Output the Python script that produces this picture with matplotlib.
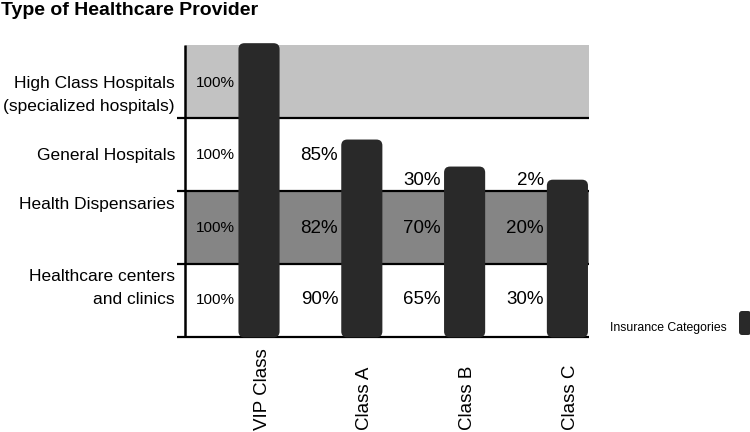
import matplotlib
matplotlib.use("Agg")
import matplotlib.pyplot as plt
from matplotlib.patches import FancyBboxPatch, Rectangle
from matplotlib.transforms import blended_transform_factory

plt.rcParams['font.family'] = ['Liberation Sans', 'DejaVu Sans']

# ---- data ----
title = "Type of Healthcare Provider"
categories = ["VIP Class", "Class A", "Class B", "Class C"]
# bar heights in "provider band" units (each band = 1)
bar_heights = [4.03, 2.71, 2.34, 2.16]
providers = ["Healthcare centers\nand clinics", "Health Dispensaries",
             "General Hospitals", "High Class Hospitals\n(specialized hospitals)"]
provider_label_y = [0.67, 1.82, 2.48, 3.315]
band_colors = ["white", "#858585", "white", "#c2c2c2"]
# percentages per provider (bottom to top), per insurance category
pct_clinics = ["100%", "90%", "65%", "30%"]
pct_dispensaries = ["100%", "82%", "70%", "20%"]
pct_general = ["100%", "85%", "30%", "2%"]
pct_highclass = ["100%", None, None, None]
pct_rows = [pct_clinics, pct_dispensaries, pct_general, pct_highclass]
pct_y = [[0.507, 0.507, 0.507, 0.507],
         [1.49, 1.49, 1.49, 1.49],
         [2.49, 2.49, 2.137, 2.137],
         [3.48, None, None, None]]
legend_label = "Insurance Categories"

W, H = 750, 432
fig = plt.figure(figsize=(W / 100, H / 100), dpi=100)
# axes placement in pixels
left, right, top, bottom = 185, 589, 45, 337
ax = fig.add_axes([left / W, 1 - bottom / H, (right - left) / W, (bottom - top) / H])
ax.set_xlim(-0.72, 3.21)
ax.set_ylim(0, 4)
ax.set_axis_off()

bar_w = 0.40
x_px = 102.7  # pixels per x unit
y_px = 73.0   # pixels per y unit

# bands
for i, c in enumerate(band_colors):
    ax.add_patch(Rectangle((-0.72, i), 3.21 + 0.72, 1, facecolor=c, edgecolor='none', zorder=0))

# horizontal lines
for yv in range(0, 4):
    ax.plot([-0.72 - 8 / x_px, 3.21], [yv, yv], color='black', lw=1.6,
            clip_on=False, zorder=1, solid_capstyle='butt')
# left spine
ax.plot([-0.72, -0.72], [0.0, 4.0], color='black', lw=1.8, clip_on=False, zorder=1,
        solid_capstyle='butt')

# bars (rounded)
r_px = 6
for i, h in enumerate(bar_heights):
    p = FancyBboxPatch((i - bar_w / 2, -0.005), bar_w, h,
                       boxstyle=f"round,pad=0,rounding_size={r_px / x_px}",
                       mutation_aspect=x_px / y_px,
                       facecolor='#292929', edgecolor='none', zorder=3, clip_on=False)
    ax.add_patch(p)

# percentage labels
for r, row in enumerate(pct_rows):
    for i, t in enumerate(row):
        if t is None:
            continue
        yv = pct_y[r][i]
        if i == 0:
            ax.text(-0.428, yv, t, ha='center', va='center', fontsize=11, zorder=4)
        else:
            ax.text(i - bar_w / 2 - 0.03, yv, t, ha='right', va='center', fontsize=13.5, zorder=4)

# provider labels
for lab, yv in zip(providers, provider_label_y):
    ax.text(-0.025, yv, lab, transform=blended_transform_factory(ax.transAxes, ax.transData),
            ha='right', va='center', fontsize=12.5, linespacing=1.65)

# category labels (rotated, bottom anchored)
tr = blended_transform_factory(ax.transData, fig.transFigure)
for i, c in enumerate(categories):
    ax.text(i + 0.03, 2 / H, c, transform=tr, rotation=90, ha='center', va='bottom',
            fontsize=13.5)

# title
fig.text(1 / W, 1 - 2 / H, title, ha='left', va='top', fontsize=14, fontweight='bold')

# legend
fig.text(610 / W, 1 - 328 / H, legend_label, ha='left', va='center', fontsize=8.8)
fig.patches.append(FancyBboxPatch((739 / W, 1 - 335 / H), 12 / W, 24 / H,
                                  boxstyle=f"round,pad=0,rounding_size={3 / W}",
                                  mutation_aspect=W / H,
                                  transform=fig.transFigure, facecolor='#292929',
                                  edgecolor='none', figure=fig))

fig.savefig("out.png", dpi=100)
